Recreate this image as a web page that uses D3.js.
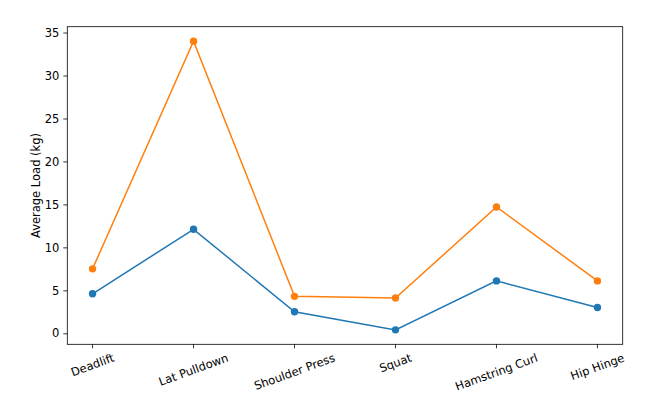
<!DOCTYPE html>
<html lang="en">
<head>
    <meta charset="UTF-8">
    <title>Average Load</title>
    <style>
        body { margin: 0; padding: 0; background: #fff; }
        svg { display: block; font-family: "DejaVu Sans", sans-serif; }
    </style>
</head>
<body>
    <svg id="chart"></svg>

    <script src="https://d3js.org/d3.v7.min.js"></script>
    <script>
        // chart data
        const exercises = ['Deadlift', 'Lat Pulldown', 'Shoulder Press', 'Squat', 'Hamstring Curl', 'Hip Hinge'];
        const seriesA = [4.6, 12.1, 2.5, 0.4, 6.1, 3.0];
        const seriesB = [7.5, 34.0, 4.3, 4.1, 14.7, 6.1];
        const yTicks = [0, 5, 10, 15, 20, 25, 30, 35];
        const colors = ['#1f77b4', '#ff7f0e'];

        const width = 655, height = 411;
        const plotLeft = 67.3, plotRight = 622.7, plotTop = 26.7, plotBottom = 344.3;
        const fontSize = 11.5;

        const svg = d3.select('#chart').attr('width', width).attr('height', height);

        const x = d3.scaleLinear().domain([-0.25, exercises.length - 0.75]).range([plotLeft, plotRight]);
        const y = d3.scaleLinear().domain([-1.28, 35.68]).range([plotBottom, plotTop]);

        // y axis
        const yAxis = svg.append('g').attr('transform', `translate(${plotLeft},0)`)
            .call(d3.axisLeft(y).tickValues(yTicks).tickSize(4).tickPadding(4).tickFormat(d3.format('d')));
        yAxis.select('.domain').remove();
        yAxis.selectAll('text').attr('font-size', fontSize).attr('font-family', 'DejaVu Sans').attr('fill', '#000');
        yAxis.selectAll('line').attr('stroke', '#000').attr('stroke-width', 0.8);

        // x ticks, labels rotated 20deg and centred under the tick
        const xg = svg.append('g');
        exercises.forEach((name, i) => {
            xg.append('line')
                .attr('x1', x(i)).attr('x2', x(i))
                .attr('y1', plotBottom).attr('y2', plotBottom + 4)
                .attr('stroke', '#000').attr('stroke-width', 0.8);
            const t = xg.append('text')
                .attr('font-size', fontSize)
                .attr('text-anchor', 'middle')
                .attr('dominant-baseline', 'central')
                .text(name);
            const w = t.node().getComputedTextLength();
            const h = fontSize * 1.1;
            const a = 20 * Math.PI / 180;
            const H = w * Math.sin(a) + h * Math.cos(a);
            const cy = plotBottom + 7 + H / 2;
            t.attr('transform', `translate(${x(i)},${cy}) rotate(-20)`);
        });

        // frame
        svg.append('rect')
            .attr('x', plotLeft).attr('y', plotTop)
            .attr('width', plotRight - plotLeft).attr('height', plotBottom - plotTop)
            .attr('fill', 'none').attr('stroke', '#000').attr('stroke-width', 0.8);

        // y label
        svg.append('text')
            .attr('transform', `translate(${36},${(plotTop + plotBottom) / 2}) rotate(-90)`)
            .attr('text-anchor', 'middle')
            .attr('dominant-baseline', 'central')
            .attr('font-size', fontSize)
            .text('Average Load (kg)');

        // lines + markers
        const line = d3.line().x((d, i) => x(i)).y(d => y(d));
        [seriesA, seriesB].forEach((vals, k) => {
            svg.append('path')
                .datum(vals)
                .attr('d', line)
                .attr('fill', 'none')
                .attr('stroke', colors[k])
                .attr('stroke-width', 1.5);
            svg.selectAll(null)
                .data(vals)
                .enter()
                .append('circle')
                .attr('cx', (d, i) => x(i))
                .attr('cy', d => y(d))
                .attr('r', 3.7)
                .attr('fill', colors[k]);
        });
    </script>
</body>
</html>
